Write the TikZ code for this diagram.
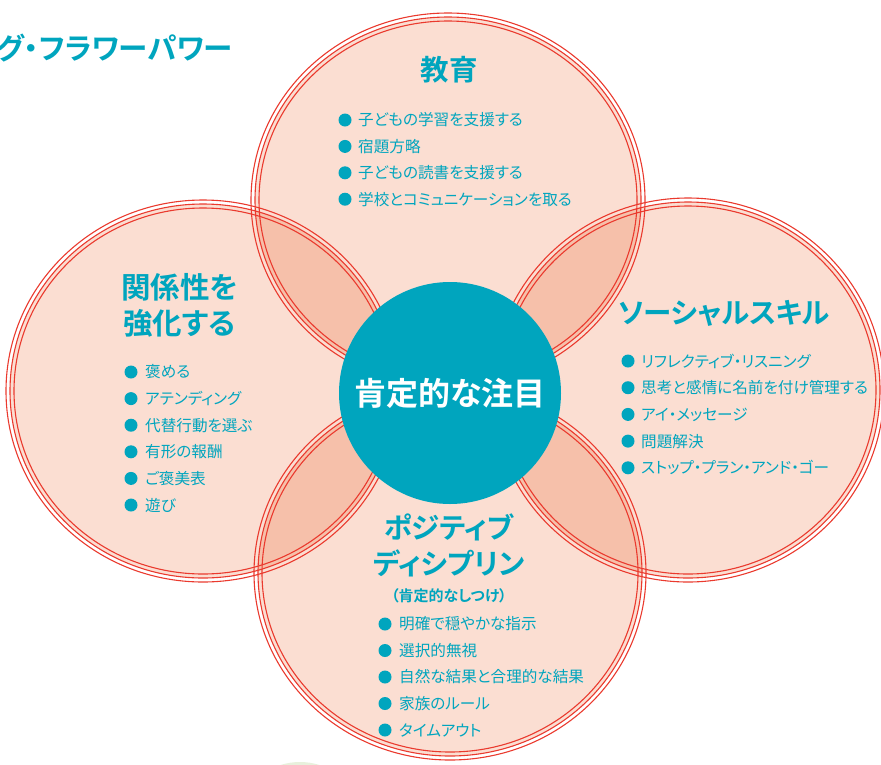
\documentclass[tikz,border=0pt]{standalone}
\usepackage{fontspec}
\setmainfont{Noto Sans CJK JP}[BoldFont={Noto Sans CJK JP Bold},RawFeature=+palt]
\definecolor{peach}{RGB}{251,222,210}
\definecolor{lensred}{RGB}{246,192,170}
\definecolor{ringred}{RGB}{234,58,46}
\definecolor{flowerteal}{RGB}{0,165,190}
\definecolor{leafgreen}{RGB}{232,240,220}

\begin{document}
\begin{tikzpicture}[x=1pt,y=-1pt,
  petal/.style={fill=peach},
  lens/.style={fill=lensred},
  ring/.style={draw=ringred,line width=1.1pt},
  head/.style={text=flowerteal,align=center,font=\fontsize{28.5}{36}\selectfont\bfseries},
  item/.style={text=flowerteal,anchor=west,inner sep=0pt,font=\fontsize{15.6}{18}\selectfont},
  dot/.style={circle,fill=flowerteal,minimum size=13pt,inner sep=0pt}]
\useasboundingbox (0,0) rectangle (881,764);
% petal centres
\coordinate (T) at (448,200);
\coordinate (L) at (203,391);
\coordinate (R) at (688,390);
\coordinate (B) at (450,573);
\fill[leafgreen] (300,800) ellipse [x radius=50,y radius=38];
% petals
\fill[petal] (T) ellipse [x radius=193,y radius=183];
\fill[petal] (L) ellipse [x radius=193,y radius=187];
\fill[petal] (R) ellipse [x radius=192,y radius=188];
\fill[petal] (B) ellipse [x radius=192,y radius=183];
% overlaps
\begin{scope}
\clip (T) ellipse [x radius=193,y radius=183];
\fill[lens] (L) ellipse [x radius=193,y radius=187];
\fill[lens] (R) ellipse [x radius=192,y radius=188];
\end{scope}
\begin{scope}
\clip (B) ellipse [x radius=192,y radius=183];
\fill[lens] (L) ellipse [x radius=193,y radius=187];
\fill[lens] (R) ellipse [x radius=192,y radius=188];
\end{scope}
% triple outlines
\foreach \d in {-4,0,4}{
  \draw[ring] (T) ellipse [x radius=193+\d,y radius=183+\d];
  \draw[ring] (L) ellipse [x radius=193+\d,y radius=187+\d];
  \draw[ring] (R) ellipse [x radius=192+\d,y radius=188+\d];
  \draw[ring] (B) ellipse [x radius=192+\d,y radius=183+\d];
}
% centre
\node[circle,fill=flowerteal,minimum size=222pt,inner sep=0pt,text=white,
  font=\fontsize{32}{38}\selectfont\bfseries] (core) at (450,393) {肯定的な注目};
% title
\node[head,anchor=east,inner sep=0pt,font=\fontsize{29.5}{36}\selectfont\bfseries] (title) at (233,48) {グ・フラワーパワー};
% education
\node[head] (edu) at (449,70) {教育};
\foreach \t [count=\i] in {子どもの学習を支援する,宿題方略,子どもの読書を支援する,学校とコミュニケーションを取る}{
  \node[dot] (edudot\i) at (345,{120+26.4*(\i-1)}) {};
  \node[item] (edu\i) at (358,{120+26.4*(\i-1)}) {\t};
}
% relationship
\node[head,anchor=west,inner sep=0pt,font=\fontsize{29.5}{36}\selectfont\bfseries] (rel) at (121,305) {関係性を\\強化する};
\foreach \t [count=\i] in {褒める,アテンディング,代替行動を選ぶ,有形の報酬,ご褒美表,遊び}{
  \node[dot] (reldot\i) at (131,{372+26.6*(\i-1)}) {};
  \node[item] (rel\i) at (145,{372+26.6*(\i-1)}) {\t};
}
% social skills
\node[head] (soc) at (724,313) {ソーシャルスキル};
\foreach \t [count=\i] in {リフレクティブ・リスニング,思考と感情に名前を付け管理する,アイ・メッセージ,問題解決,ストップ・プラン・アンド・ゴー}{
  \node[dot] (socdot\i) at (628,{361+26.7*(\i-1)}) {};
  \node[item] (soc\i) at (641,{361+26.7*(\i-1)}) {\t};
}
% positive discipline
\node[head] (dis) at (449,545) {ポジティブ\\ディシプリン};
\node[text=flowerteal,font=\fontsize{15}{18}\selectfont\bfseries] (dissub) at (449,596) {（肯定的なしつけ）};
\foreach \t [count=\i] in {明確で穏やかな指示,選択的無視,自然な結果と合理的な結果,家族のルール,タイムアウト}{
  \node[dot] (disdot\i) at (385,{624+26.5*(\i-1)}) {};
  \node[item] (dis\i) at (399,{624+26.5*(\i-1)}) {\t};
}
\end{tikzpicture}
\end{document}
